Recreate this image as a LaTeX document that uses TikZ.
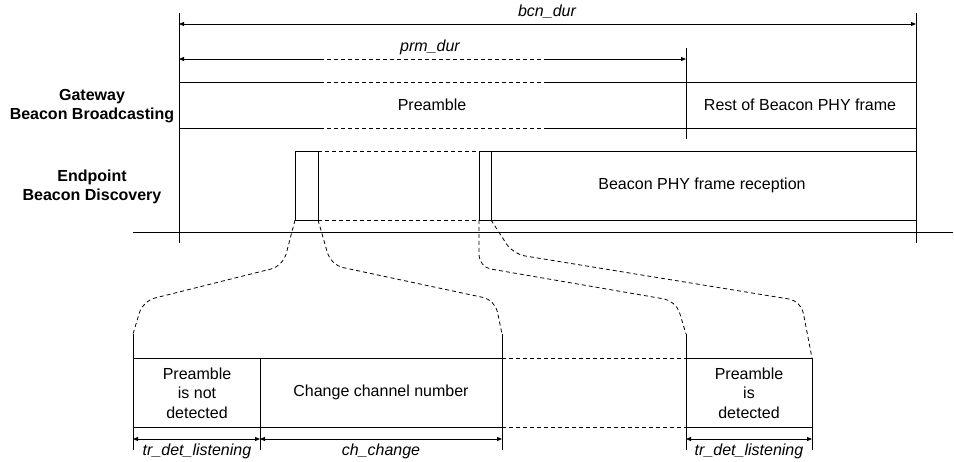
\documentclass[tikz,border=0pt]{standalone}
\usepackage{fontspec}
\setmainfont{Liberation Sans}
\usetikzlibrary{arrows.meta}

\tikzset{
  ln/.style={line width=0.8pt},
  dsh/.style={ln, dash pattern=on 4pt off 3pt},
  dim/.style={ln, {Triangle[length=5pt,width=4pt]}-{Triangle[length=5pt,width=4pt]}},
  lbl/.style={font=\fontsize{16}{19.5}\selectfont, inner sep=0pt, align=center},
  dlbl/.style={lbl, font=\fontsize{16}{19.5}\selectfont\itshape},
  zoomln/.style={dsh, rounded corners=12pt}
}

\begin{document}
\begin{tikzpicture}[x=1pt,y=-1pt]
      \useasboundingbox (0,0) rectangle (954,462);

      % Time limits
      \draw[ln] (179,13) -- (179,243);
      \draw[ln] (916,13) -- (916,243);
      \draw[ln] (686,48) -- (686,139);
      \draw[ln] (133,232) -- (953,232);

      % Durations
      \draw[dim] (179,24) -- (916,24);
      \node[dlbl] (bcn) at (547,12) {bcn\_dur};
      \draw[ln, {Triangle[length=5pt,width=4pt]}-] (179,59) -- (320,59);
      \draw[dsh] (320,59) -- (546,59);
      \draw[ln, -{Triangle[length=5pt,width=4pt]}] (546,59) -- (686,59);
      \node[dlbl] (prm) at (430,47) {prm\_dur};

      % Gateway row
      \foreach \y in {82,128} {
          \draw[ln] (179,\y) -- (320,\y);
          \draw[dsh] (320,\y) -- (546,\y);
          \draw[ln] (546,\y) -- (916,\y);
      }
      \node[lbl] (pre) at (432,105) {Preamble};
      \node[lbl] (rest) at (800,105) {Rest of Beacon PHY frame};
      \node[lbl, font=\fontsize{16}{19.5}\selectfont\bfseries] (gw) at (92,106) {Gateway\\Beacon Broadcasting};

      % Endpoint row
      \draw[ln] (295,151) rectangle (318,220);
      \draw[dsh] (318,151) -- (479,151);
      \draw[dsh] (318,220) -- (479,220);
      \draw[ln] (479,151) rectangle (491,220);
      \draw[ln] (491,151) rectangle (916,220);
      \node[lbl] (rcv) at (702,185) {Beacon PHY frame reception};
      \node[lbl, font=\fontsize{16}{19.5}\selectfont\bfseries] (ep) at (92,187) {Endpoint\\Beacon Discovery};

      % Zoom lines
      \draw[zoomln] (295,220) -- (283,266) -- (143,301) -- (133,334);
      \draw[zoomln] (318,220) -- (331,265) -- (495,300) -- (502,334);
      \draw[zoomln] (479,220) -- (479,267) -- (676,301) -- (686,334);
      \draw[zoomln] (491,220) -- (513,254) -- (801,301) -- (812,358);

      % Zoomed listening windows
      \draw[ln] (133,358) rectangle (260,427);
      \draw[ln] (260,358) rectangle (502,427);
      \draw[dsh] (502,358) -- (686,358);
      \draw[dsh] (502,427) -- (686,427);
      \draw[ln] (686,358) rectangle (812,427);
      \node[lbl] (nd) at (197,393) {Preamble\\is not\\detected};
      \node[lbl] (chg) at (381,392) {Change channel number};
      \node[lbl] (det) at (749,393) {Preamble\\is\\detected};

      % Ticks
      \foreach \x/\t in {133/334, 260/358, 502/334, 686/334, 812/358}
          \draw[ln] (\x,\t) -- (\x,450);

      % Window durations
      \draw[dim] (133,439) -- (260,439);
      \draw[dim] (260,439) -- (502,439);
      \draw[dim] (686,439) -- (812,439);
      \node[dlbl] (tl1) at (197,451) {tr\_det\_listening};
      \node[dlbl] (cc) at (381,451) {ch\_change};
      \node[dlbl] (tl2) at (749,451) {tr\_det\_listening};

\end{tikzpicture}
\end{document}
